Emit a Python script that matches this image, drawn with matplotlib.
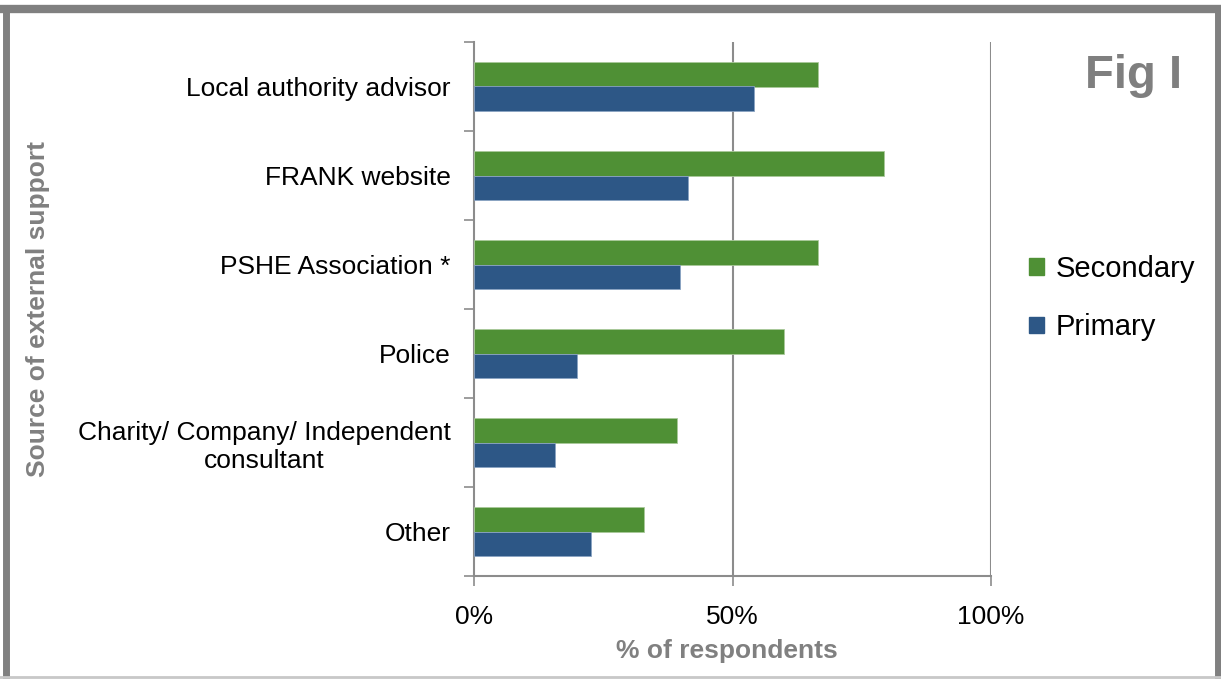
import numpy as np
import matplotlib.pyplot as plt
from matplotlib.patches import Patch
from matplotlib.lines import Line2D

plt.rcParams['font.family'] = ['Liberation Sans', 'DejaVu Sans']

# Data (% of respondents), top to bottom as shown
categories = ['Local authority advisor', 'FRANK website', 'PSHE Association *',
              'Police', 'Charity/ Company/ Independent\nconsultant', 'Other']
secondary = [66.5, 79.4, 66.5, 60.0, 39.3, 32.8]
primary = [54.2, 41.4, 39.9, 19.9, 15.6, 22.7]

green = '#4f9035'
blue = '#2d5786'
grey = '#8c8c8c'

fig = plt.figure(figsize=(12.21, 6.79), dpi=100)
ax = fig.add_axes([474 / 1221, 1 - 576 / 679, 517 / 1221, 534 / 679])

n = len(categories)
ypos = np.arange(n)[::-1]
h = 0.28
ax.barh(ypos + h / 2, secondary, height=h, color=green, edgecolor='#a9c99a', linewidth=0.6, label='Secondary', zorder=3)
ax.barh(ypos - h / 2, primary, height=h, color=blue, edgecolor='#8aa3c2', linewidth=0.6, label='Primary', zorder=3)

ax.set_xlim(0, 100)
ax.set_ylim(-0.5, n - 0.5)

# x axis
ax.set_xticks([0, 50, 100])
ax.set_xticklabels(['0%', '50%', '100%'], fontsize=19)
ax.tick_params(axis='x', length=7, width=1.2, color=grey, pad=14)
for xv in [50, 100]:
    ax.axvline(xv, color=grey, linewidth=1.5, zorder=1)

# y axis: ticks on category boundaries, labels at centres
ax.set_yticks(np.arange(-0.5, n, 1.0))
ax.set_yticklabels([])
ax.set_yticks(ypos, minor=True)
ax.set_yticklabels(categories, minor=True, fontsize=19)
ax.tick_params(axis='y', which='major', length=7, width=1.2, color=grey)
ax.tick_params(axis='y', which='minor', length=0, pad=17)
for lbl in ax.get_yticklabels(minor=True):
    lbl.set_multialignment('center')

for s in ['top', 'right']:
    ax.spines[s].set_visible(False)
for s in ['left', 'bottom']:
    ax.spines[s].set_color(grey)
    ax.spines[s].set_linewidth(1.5)

fig.text(727 / 1221, 1 - 651 / 679, '% of respondents', fontsize=19, fontweight='bold',
         color='#808080', ha='center', va='center')
fig.text(38 / 1221, 1 - 309 / 679, 'Source of external support', fontsize=19, fontweight='bold',
         color='#808080', ha='center', va='center', rotation=90)
fig.text(1134 / 1221, 1 - 76 / 679, 'Fig I', fontsize=34, fontweight='bold',
         color='#7f7f7f', ha='center', va='center')

handles = [Patch(color=green, label='Secondary'), Patch(color=blue, label='Primary')]
fig.legend(handles=handles, loc='center left', bbox_to_anchor=(1003 / 1221, 1 - 298 / 679),
           frameon=False, fontsize=21, handlelength=0.5, handleheight=0.5,
           handletextpad=0.4, labelspacing=1.05)

# outer frame
fig.add_artist(Line2D([6 / 1221, 6 / 1221], [0, 1 - 9 / 679], color='#808080', linewidth=5,
                      transform=fig.transFigure))
fig.add_artist(Line2D([3 / 1221, 1], [1 - 9 / 679, 1 - 9 / 679], color='#808080', linewidth=6,
                      transform=fig.transFigure))
fig.add_artist(Line2D([1218 / 1221, 1218 / 1221], [0, 1 - 9 / 679], color='#808080', linewidth=5,
                      transform=fig.transFigure))
fig.add_artist(Line2D([0, 1], [2 / 679, 2 / 679], color='#c8c8c8', linewidth=2,
                      transform=fig.transFigure))

fig.savefig('out.png', dpi=100)
